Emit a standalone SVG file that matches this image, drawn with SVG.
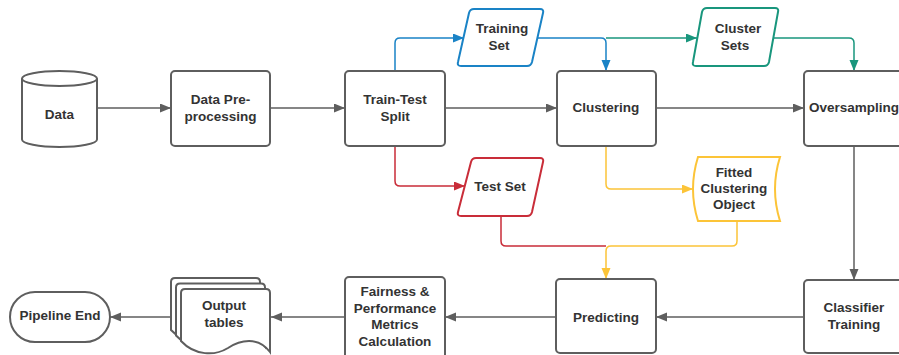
<svg xmlns="http://www.w3.org/2000/svg" width="899" height="355" viewBox="0 0 899 355">
<style>
  .shape { fill: #ffffff; stroke: #5e5e5e; stroke-width: 2; }
  .lbl { font-family: "Liberation Sans", Arial, sans-serif; font-weight: bold; font-size: 13.5px; fill: #333333; text-anchor: middle; }
  .c { fill: none; stroke-width: 1.5; }
  .gray { stroke: #5e5e5e; }
  .blue { stroke: #1a83c6; }
  .teal { stroke: #19967d; }
  .red { stroke: #c92d39; }
  .yellow { stroke: #fcc438; }
</style>
<defs>
  <marker id="aGray" markerUnits="userSpaceOnUse" markerWidth="12" markerHeight="10" refX="11" refY="4.5" orient="auto"><path d="M0,0 L11,4.5 L0,9 z" fill="#5e5e5e"/></marker>
  <marker id="aBlue" markerUnits="userSpaceOnUse" markerWidth="12" markerHeight="10" refX="11" refY="4.5" orient="auto"><path d="M0,0 L11,4.5 L0,9 z" fill="#1a83c6"/></marker>
  <marker id="aTeal" markerUnits="userSpaceOnUse" markerWidth="12" markerHeight="10" refX="11" refY="4.5" orient="auto"><path d="M0,0 L11,4.5 L0,9 z" fill="#19967d"/></marker>
  <marker id="aRed" markerUnits="userSpaceOnUse" markerWidth="12" markerHeight="10" refX="11" refY="4.5" orient="auto"><path d="M0,0 L11,4.5 L0,9 z" fill="#c92d39"/></marker>
  <marker id="aYellow" markerUnits="userSpaceOnUse" markerWidth="12" markerHeight="10" refX="11" refY="4.5" orient="auto"><path d="M0,0 L11,4.5 L0,9 z" fill="#fcc438"/></marker>
</defs>
<rect width="899" height="355" fill="#ffffff"/>

<g id="connectors">
  <path class="c gray" d="M97,108 H171" marker-end="url(#aGray)"/>
  <path class="c gray" d="M270,108 H345" marker-end="url(#aGray)"/>
  <path class="c gray" d="M445,108 H557" marker-end="url(#aGray)"/>
  <path class="c gray" d="M656,108 H804" marker-end="url(#aGray)"/>
  <path class="c gray" d="M854,146 V280" marker-end="url(#aGray)"/>
  <path class="c gray" d="M804,317 H656" marker-end="url(#aGray)"/>
  <path class="c gray" d="M556,317 H445" marker-end="url(#aGray)"/>
  <path class="c gray" d="M345,317 H271" marker-end="url(#aGray)"/>
  <path class="c gray" d="M171,317 H110" marker-end="url(#aGray)"/>
  <path class="c blue" d="M395,71 V43 Q395,38 400,38 H464" marker-end="url(#aBlue)"/>
  <path class="c teal" d="M606,38 H697" marker-end="url(#aTeal)"/>
  <path class="c teal" d="M773,38 H849 Q854,38 854,43 V71" marker-end="url(#aTeal)"/>
  <path class="c blue" d="M537,38 H601 Q606,38 606,43 V71" marker-end="url(#aBlue)"/>
  <path class="c red" d="M395,146 V181 Q395,186 400,186 H465" marker-end="url(#aRed)"/>
  <path class="c red" d="M501,216 V241 Q501,246 506,246 H606"/>
  <path class="c yellow" d="M606,146 V184 Q606,189 611,189 H693" marker-end="url(#aYellow)"/>
  <path class="c yellow" d="M737,221 V241 Q737,246 732,246 H611 Q606,246 606,251 V279" marker-end="url(#aYellow)"/>
</g>

<g id="data">
  <path class="shape" d="M22,78.5 V139.5 A37.5,7.5 0 0 0 97,139.5 V78.5"/>
  <ellipse class="shape" cx="59.5" cy="78.5" rx="37.5" ry="7.5"/>
  <text class="lbl" x="59.5" y="119">Data</text>
</g>

<g id="preprocessing">
  <rect class="shape" x="171" y="71" width="99" height="75" rx="4"/>
  <text class="lbl" x="220.5" y="104">Data Pre-</text>
  <text class="lbl" x="220.5" y="120.5">processing</text>
</g>

<g id="split">
  <rect class="shape" x="345" y="71" width="100" height="75" rx="4"/>
  <text class="lbl" x="395" y="104">Train-Test</text>
  <text class="lbl" x="395" y="120.5">Split</text>
</g>

<g id="training-set">
  <path class="shape" style="stroke:#1a83c6" d="M474,9 H540 Q544,9 543,13 L532,62 Q531,66 527,66 H461 Q457,66 458,62 L469,13 Q470,9 474,9 Z"/>
  <text class="lbl" x="502" y="33">Training</text>
  <text class="lbl" x="499" y="49.5">Set</text>
</g>

<g id="clustering">
  <rect class="shape" x="557" y="71" width="99" height="75" rx="4"/>
  <text class="lbl" x="606" y="112">Clustering</text>
</g>

<g id="cluster-sets">
  <path class="shape" style="stroke:#19967d" d="M707,8 H775 Q779,8 778,12 L769,62 Q768,66 764,66 H696 Q692,66 693,62 L702,12 Q703,8 707,8 Z"/>
  <text class="lbl" x="738" y="33">Cluster</text>
  <text class="lbl" x="735" y="49.5">Sets</text>
</g>

<g id="oversampling">
  <rect class="shape" x="804" y="71" width="110" height="75" rx="4"/>
  <text class="lbl" x="854" y="112">Oversampling</text>
</g>

<g id="test-set">
  <path class="shape" style="stroke:#c92d39" d="M476,158 H540 Q544,158 543,162 L532,212 Q531,216 527,216 H461 Q457,216 458,212 L471,162 Q472,158 476,158 Z"/>
  <text class="lbl" x="500" y="191">Test Set</text>
</g>

<g id="fitted-clustering-object">
  <path class="shape" style="stroke:#fcc438" d="M698,157 H780 Q770,189 780,221 H698 Q688,189 698,157 Z"/>
  <text class="lbl" x="734" y="177">Fitted</text>
  <text class="lbl" x="734" y="193">Clustering</text>
  <text class="lbl" x="734" y="209">Object</text>
</g>

<g id="classifier-training">
  <rect class="shape" x="804" y="280" width="110" height="73" rx="4"/>
  <text class="lbl" x="854" y="312">Classifier</text>
  <text class="lbl" x="854" y="328.5">Training</text>
</g>

<g id="predicting">
  <rect class="shape" x="556" y="279" width="100" height="74" rx="4"/>
  <text class="lbl" x="606" y="322">Predicting</text>
</g>

<g id="metrics">
  <rect class="shape" x="345" y="277" width="100" height="84" rx="4"/>
  <text class="lbl" x="395" y="296">Fairness &amp;</text>
  <text class="lbl" x="395" y="312.5">Performance</text>
  <text class="lbl" x="395" y="329">Metrics</text>
  <text class="lbl" x="395" y="345.5">Calculation</text>
</g>

<g id="output-tables">
  <path class="shape" d="M175,278 H256 Q260,278 260,282 V341 C248,325 230,329 218,337 C205,345 185,345 171,330 V282 Q171,278 175,278 Z"/>
  <path class="shape" d="M180,283.5 H261 Q265,283.5 265,287.5 V346.5 C253,330.5 235,334.5 223,342.5 C210,350.5 190,350.5 176,335.5 V287.5 Q176,283.5 180,283.5 Z"/>
  <path class="shape" d="M185,289 H266 Q270,289 270,293 V352 C258,336 240,340 228,348 C215,356 195,356 181,341 V293 Q181,289 185,289 Z"/>
  <text class="lbl" x="224" y="310">Output</text>
  <text class="lbl" x="224" y="326.5">tables</text>
</g>

<g id="pipeline-end">
  <rect class="shape" x="10" y="292" width="100" height="50" rx="25"/>
  <text class="lbl" x="60" y="320">Pipeline End</text>
</g>
</svg>
